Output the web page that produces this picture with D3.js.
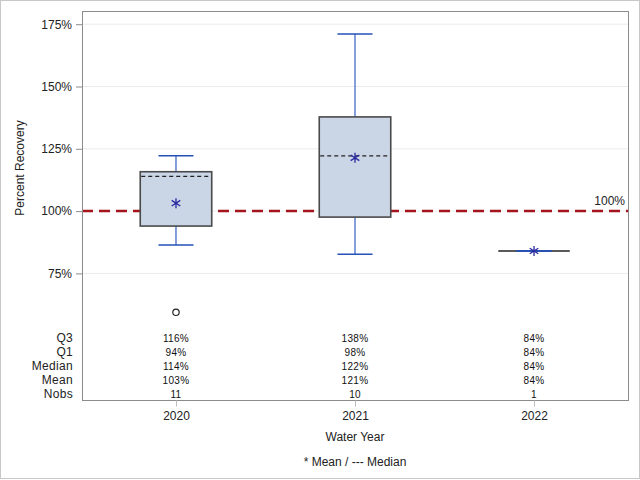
<!DOCTYPE html>
<html><head><meta charset="utf-8">
<script src="https://cdn.jsdelivr.net/npm/d3@7"></script>
<style>body{margin:0;background:#fff}svg{display:block;font-family:"Liberation Sans",Arial,sans-serif}</style>
</head><body><svg id="c" width="640" height="480"></svg>
<script>
const years = ["2020", "2021", "2022"];
const q1 = [94.0, 97.6, 84.0];
const q3 = [115.8, 137.8, 84.0];
const median = [113.9, 122.2, 84.0];
const mean = [103.2, 121.4, 84.0];
const whiskerLo = [86.4, 82.7, 84.0];
const whiskerHi = [122.2, 171.1, 84.0];
const outliers = [[59.4], [], []];
const nobs = [11, 10, 1];
const yTicks = [75, 100, 125, 150, 175];
const refValue = 100;
const statRows = ["Q3", "Q1", "Median", "Mean", "Nobs"];

const svg = d3.select("#c");
const L = 82, R = 628, T = 11, B = 400, axisBottom = 325;
const x = d3.scalePoint().domain(years).range([L, R]).padding(0.525);
const y = d3.scaleLinear().domain([54.3, 180.3]).range([axisBottom, T]);
const pct = v => Math.round(v) + "%";

// outer border
svg.append("rect").attr("x", 0.5).attr("y", 0.5).attr("width", 639).attr("height", 478)
  .attr("fill", "none").attr("stroke", "#c8c8c8");

// grid
svg.append("g").selectAll("line").data(yTicks).join("line")
  .attr("x1", L).attr("x2", R).attr("y1", d => y(d)).attr("y2", d => y(d))
  .attr("stroke", "#ebebeb").attr("stroke-width", 1);

// y axis
const ya = svg.append("g").attr("transform", `translate(${L},0)`)
  .call(d3.axisLeft(y).tickValues(yTicks).tickSize(6).tickPadding(4).tickFormat(d => d + "%"));
ya.select(".domain").remove();
ya.selectAll("line").attr("stroke", "#8c8c8c");
ya.selectAll("text").attr("font-size", 12).attr("fill", "#222").attr("font-family", "Liberation Sans, Arial");

svg.append("text").attr("transform", `translate(24,${(T + axisBottom) / 2}) rotate(-90)`)
  .attr("text-anchor", "middle").attr("font-size", 12).attr("fill", "#222").text("Percent Recovery");

// reference line
svg.append("line").attr("x1", L).attr("x2", R).attr("y1", y(refValue)).attr("y2", y(refValue))
  .attr("stroke", "#a3141c").attr("stroke-width", 2.5).attr("stroke-dasharray", "11,6");
svg.append("text").attr("x", R - 3).attr("y", y(refValue) - 6).attr("text-anchor", "end")
  .attr("font-size", 12).attr("fill", "#222").text(refValue + "%");

const bw = 71.5, cw = 35;
const g = svg.append("g");
years.forEach((yr, i) => {
  const cx = x(yr);
  const flat = q3[i] === q1[i];
  // whiskers
  g.append("line").attr("x1", cx).attr("x2", cx).attr("y1", y(q3[i])).attr("y2", y(whiskerHi[i]))
    .attr("stroke", "#5b7fcf").attr("stroke-width", 1.5);
  g.append("line").attr("x1", cx).attr("x2", cx).attr("y1", y(q1[i])).attr("y2", y(whiskerLo[i]))
    .attr("stroke", "#5b7fcf").attr("stroke-width", 1.5);
  // box
  if (flat) {
    g.append("line").attr("x1", cx - bw / 2).attr("x2", cx + bw / 2).attr("y1", y(q3[i])).attr("y2", y(q3[i]))
      .attr("stroke", "#222").attr("stroke-width", 1.3);
  } else {
    g.append("rect").attr("x", cx - bw / 2).attr("y", y(q3[i])).attr("width", bw)
      .attr("height", y(q1[i]) - y(q3[i]))
      .attr("fill", "#cad5e5").attr("stroke", "#4a4a4a").attr("stroke-width", 1.6);
  }
  // caps
  [whiskerHi[i], whiskerLo[i]].forEach(v => {
    g.append("line").attr("x1", cx - cw / 2).attr("x2", cx + cw / 2).attr("y1", y(v)).attr("y2", y(v))
      .attr("stroke", "#2450b8").attr("stroke-width", 1.5);
  });
  // median
  if (!flat) {
    g.append("line").attr("x1", cx - bw / 2 + 1).attr("x2", cx + bw / 2 - 1)
      .attr("y1", y(median[i])).attr("y2", y(median[i]))
      .attr("stroke", "#222").attr("stroke-width", 1.2).attr("stroke-dasharray", "4,3");
  }
  // mean star
  const my = y(mean[i]), s = 5;
  g.append("path").attr("d", `M${cx},${my - s}V${my + s}M${cx - 4.3},${my - 2.8}L${cx + 4.3},${my + 2.8}M${cx - 4.3},${my + 2.8}L${cx + 4.3},${my - 2.8}`)
    .attr("stroke", "#2a2aa0").attr("stroke-width", 1.3).attr("fill", "none");
  // outliers
  outliers[i].forEach(v => {
    g.append("circle").attr("cx", cx).attr("cy", y(v)).attr("r", 3.2)
      .attr("fill", "none").attr("stroke", "#222").attr("stroke-width", 1.2);
  });
});

// stats table
const rowY = [338, 352, 366, 380, 394];
const statVals = [q3.map(pct), q1.map(pct), median.map(pct), mean.map(pct), nobs.map(String)];
statRows.forEach((lab, r) => {
  svg.append("text").attr("x", 73).attr("y", rowY[r]).attr("dy", "0.35em").attr("text-anchor", "end")
    .attr("font-size", 12).attr("letter-spacing", 0.3).attr("fill", "#222").text(lab);
  years.forEach((yr, i) => {
    svg.append("text").attr("x", x(yr)).attr("y", rowY[r]).attr("dy", "0.35em").attr("text-anchor", "middle")
      .attr("font-size", 10).attr("letter-spacing", 0.3).attr("fill", "#111").text(statVals[r][i]);
  });
});

// frame
svg.append("rect").attr("x", L + 0.5).attr("y", T + 0.5).attr("width", R - L).attr("height", B - T)
  .attr("fill", "none").attr("stroke", "#8c8c8c").attr("stroke-width", 1);

// x axis
const xa = svg.append("g").attr("transform", `translate(0,${B + 0.5})`)
  .call(d3.axisBottom(x).tickSize(6).tickPadding(5));
xa.select(".domain").remove();
xa.selectAll("line").attr("stroke", "#bdbdbd");
xa.selectAll("text").attr("font-size", 12).attr("fill", "#222").attr("font-family", "Liberation Sans, Arial");

svg.append("text").attr("x", (L + R) / 2).attr("y", 437).attr("dy", "0.35em").attr("text-anchor", "middle")
  .attr("font-size", 12).attr("fill", "#222").text("Water Year");
svg.append("text").attr("x", (L + R) / 2).attr("y", 462).attr("dy", "0.35em").attr("text-anchor", "middle")
  .attr("font-size", 12).attr("fill", "#222").text("* Mean / --- Median");
</script></body></html>
